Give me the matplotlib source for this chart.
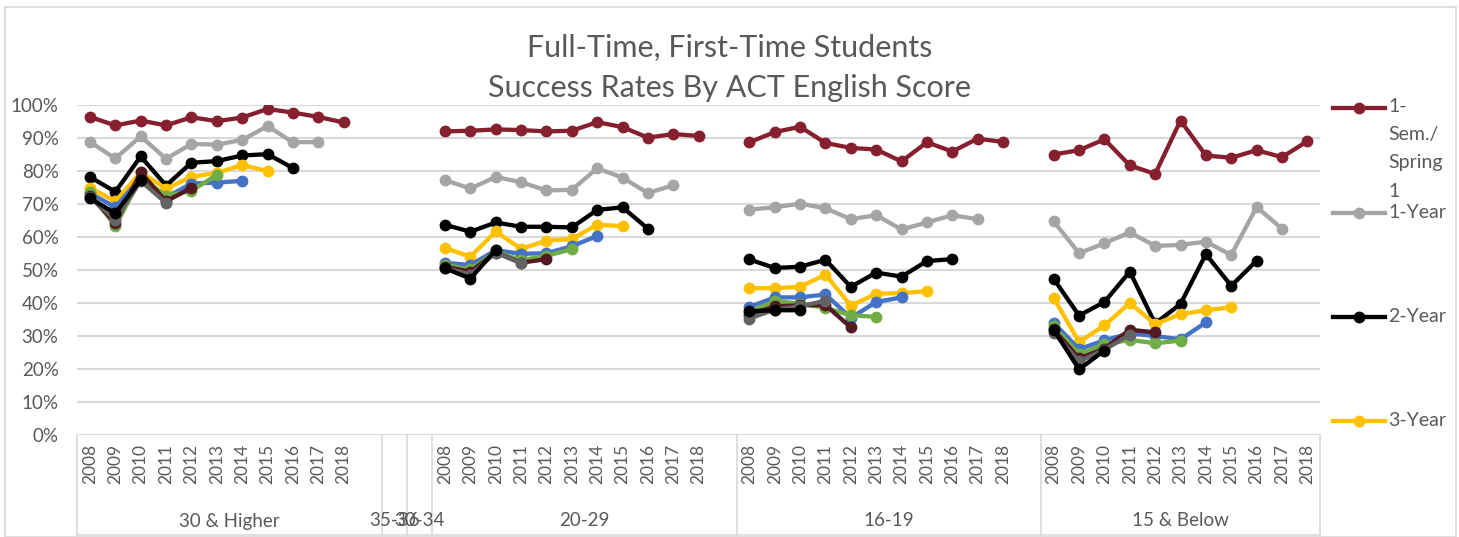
import numpy as np
import matplotlib.pyplot as plt
import matplotlib.transforms as mtransforms
from matplotlib.lines import Line2D
from matplotlib.patches import Rectangle

plt.rcParams['font.family'] = ['Lato', 'DejaVu Sans']

W, H = 1459, 537
txt = '#595959'
grid_c = '#D9D9D9'

groups = ['30 & Higher', '35-36', '30-34', '20-29', '16-19', '15 & Below']
group_sizes = [12, 1, 1, 12, 12, 11]
data_groups = ['30 & Higher', '20-29', '16-19', '15 & Below']
years = ['2008', '2009', '2010', '2011', '2012', '2013', '2014', '2015', '2016', '2017', '2018']

series_names = ['1-Sem./Spring 1', '1-Year', '2-Year', '3-Year', '4-Year',
                '5-Year', '6-Year', '7-Year', '8-Year']
legend_labels = ['1-\nSem./\nSpring\n1', '1-Year', '2-Year', '3-Year']
colors = ['#86202E', '#A5A5A5', '#000000', '#FFC000', '#4472C4',
          '#70AD47', '#541A22', '#636363', '#000000']

# values in %, one list per ACT group (30 & Higher, 20-29, 16-19, 15 & Below)
sem1 = [[96.4, 93.8, 95.3, 93.8, 96.3, 95.1, 96.2, 98.8, 97.7, 96.4, 94.7],
        [92.0, 92.2, 92.6, 92.4, 92.0, 92.2, 94.8, 93.3, 90.1, 91.2, 90.6],
        [88.7, 91.8, 93.4, 88.5, 87.0, 86.5, 82.9, 88.7, 85.9, 89.8, 88.8],
        [85.0, 86.3, 89.6, 81.7, 79.1, 95.3, 84.7, 84.0, 86.3, 84.2, 89.0]]
year1 = [[88.8, 83.8, 90.5, 83.7, 88.2, 88.0, 89.4, 93.6, 88.7, 88.8],
         [77.2, 74.7, 78.2, 76.6, 74.1, 74.3, 80.8, 78.0, 73.3, 75.7],
         [68.3, 69.0, 70.1, 68.7, 65.4, 66.6, 62.3, 64.4, 66.6, 65.4],
         [64.7, 55.1, 58.1, 61.4, 57.3, 57.6, 58.6, 54.5, 69.1, 62.5]]
year2 = [[78.2, 73.7, 84.4, 75.6, 82.5, 83.0, 84.7, 85.1, 80.9],
         [63.7, 61.6, 64.4, 63.1, 63.1, 62.9, 68.2, 69.0, 62.5],
         [53.2, 50.6, 51.0, 53.1, 44.9, 49.2, 48.0, 52.7, 53.3],
         [47.3, 36.2, 40.3, 49.5, 33.8, 39.7, 54.8, 45.2, 52.8]]
year3 = [[74.9, 70.8, 79.6, 74.6, 78.3, 79.4, 81.8, 80.0],
         [56.7, 54.0, 61.7, 56.4, 58.9, 59.4, 63.7, 63.3],
         [44.5, 44.5, 44.9, 48.6, 39.2, 42.8, 43.0, 43.6],
         [41.5, 28.2, 33.2, 40.0, 33.6, 36.6, 37.8, 38.7]]
year4 = [[73.3, 69.0, 78.0, 72.0, 76.2, 76.5, 77.0],
         [52.2, 51.5, 56.0, 54.9, 55.1, 57.2, 60.3],
         [38.8, 41.7, 41.7, 42.6, 35.5, 40.3, 41.7],
         [34.0, 26.0, 28.7, 30.8, 30.0, 29.0, 34.1]]
year5 = [[73.6, 63.2, 78.0, 72.5, 74.0, 78.8],
         [51.5, 50.2, 55.5, 53.0, 54.3, 56.3],
         [37.2, 40.6, 39.8, 38.5, 36.3, 35.8],
         [33.0, 24.5, 27.5, 28.8, 27.8, 28.6]]
year6 = [[72.5, 64.2, 79.6, 70.8, 74.9],
         [51.0, 49.5, 55.3, 52.2, 53.3],
         [36.5, 39.0, 39.3, 39.4, 32.6],
         [32.0, 23.2, 26.2, 31.9, 31.1]]
year7 = [[72.0, 65.3, 77.0, 70.3],
         [50.6, 48.6, 55.3, 52.0],
         [35.3, 38.0, 39.0, 40.7],
         [31.0, 22.3, 25.8, 30.4]]
year8 = [[71.7, 67.2, 77.3],
         [50.5, 47.4, 56.1],
         [37.5, 37.8, 37.8],
         [31.9, 19.9, 25.6]]

series = [sem1, year1, year2, year3, year4, year5, year6, year7, year8]

starts = np.cumsum([0] + group_sizes[:-1])
group_start = dict(zip(groups, starts))
n_cat = sum(group_sizes)

fig = plt.figure(figsize=(W / 100, H / 100), dpi=100)
ax = fig.add_axes([77.3 / W, 1 - 435 / H, (1320 - 77.3) / W, 330 / H])

for vals_by_group, color, name in zip(series, colors, series_names):
    for g, vals in zip(data_groups, vals_by_group):
        x = group_start[g] + np.arange(len(vals))
        ax.plot(x, vals, color=color, lw=3.1, marker='o', ms=7.5,
                solid_capstyle='round', solid_joinstyle='round', label=name)

ax.set_xlim(-0.5, n_cat - 0.5)
ax.set_ylim(0, 100)
ax.set_yticks(range(0, 101, 10))
ax.set_yticklabels([f'{v}%' for v in range(0, 101, 10)])
ax.set_xticks([])
ax.tick_params(axis='y', length=0, labelsize=13.5, labelcolor=txt, pad=13.5)
ax.yaxis.grid(True, color=grid_c, lw=1.5)
ax.set_axisbelow(True)
for s in ax.spines.values():
    s.set_visible(False)

# multi-level category axis
tr = mtransforms.blended_transform_factory(ax.transData, ax.transAxes)
box_bottom = -(535 - 435) / 330
for g, size in zip(groups, group_sizes):
    s0 = group_start[g]
    ax.add_line(Line2D([s0 - 0.5, s0 - 0.5], [0, box_bottom], transform=tr,
                       color=grid_c, lw=1.2, clip_on=False))
    if size >= 11:
        for j in range(min(size, 11)):
            ax.text(s0 + j, -9 / 330, years[j], transform=tr, rotation=90,
                    ha='center', va='top', fontsize=12.5, color=txt)
    ax.text(s0 + size / 2 - 0.5, -(521 - 435) / 330, g, transform=tr,
            ha='center', va='center', fontsize=13.5, color=txt)
ax.add_line(Line2D([n_cat - 0.5, n_cat - 0.5], [0, box_bottom], transform=tr,
                   color=grid_c, lw=1.2, clip_on=False))
ax.add_line(Line2D([-0.5, n_cat - 0.5], [box_bottom, box_bottom], transform=tr,
                   color=grid_c, lw=1.2, clip_on=False))

# title
fig.text(0.5, 1 - 48 / H, 'Full-Time, First-Time Students', ha='center',
         va='center', fontsize=22, color=txt)
fig.text(0.5, 1 - 88 / H, 'Success Rates By ACT English Score', ha='center',
         va='center', fontsize=22, color=txt)

# legend (only the first entries fit in the chart area)
leg_y = [108, 213, 317, 421]
for lab, color, y in zip(legend_labels, colors, leg_y):
    yf = 1 - y / H
    fig.add_artist(Line2D([1333 / W, 1359 / W, 1385 / W], [yf, yf, yf],
                          color=color, lw=3.1, marker='o', ms=7.5, markevery=[1]))
    if '\n' in lab:
        fig.text(1388 / W, 1 - 98 / H, lab, ha='left', va='top', fontsize=14,
                 color=txt, linespacing=1.8)
    else:
        fig.text(1388 / W, yf, lab, ha='left', va='center', fontsize=14, color=txt)

# chart border
fig.add_artist(Rectangle((5 / W, 0.5 / H), 1451 / W, 530 / H, transform=fig.transFigure,
                         fill=False, edgecolor=grid_c, lw=1.2))

fig.savefig('out.png', dpi=100)
